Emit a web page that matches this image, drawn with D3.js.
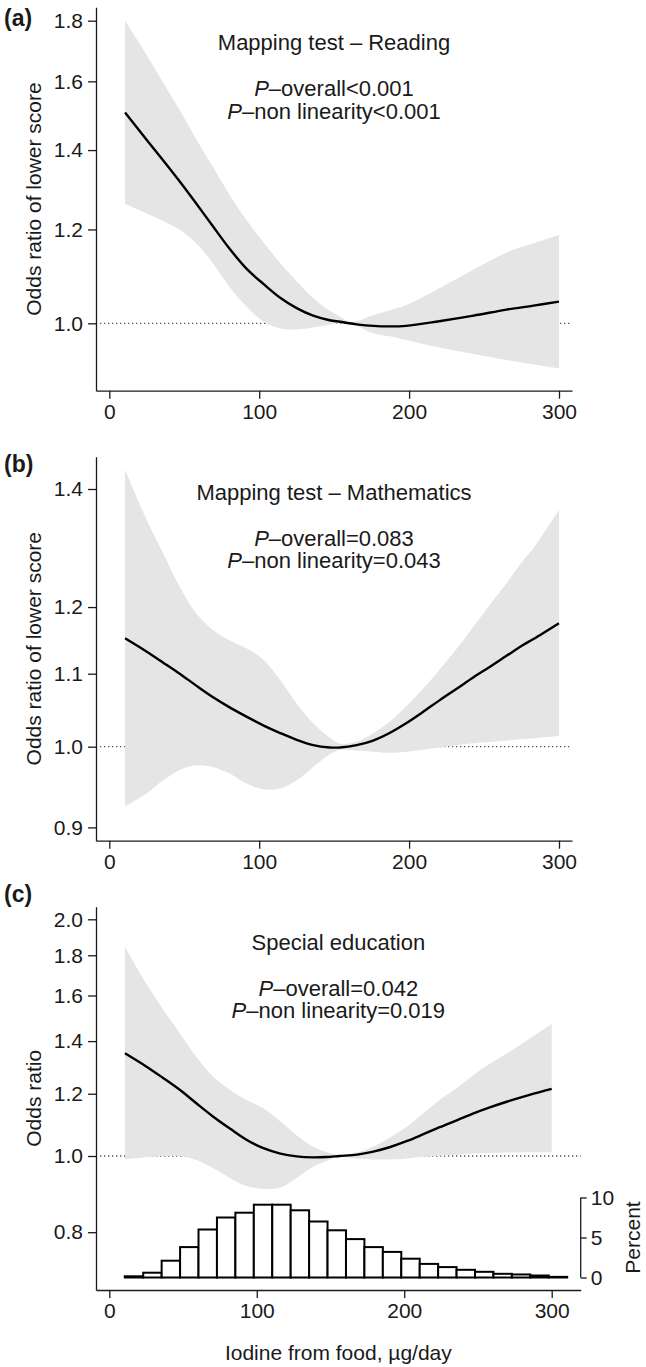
<!DOCTYPE html>
<html>
<head>
<meta charset="utf-8">
<script src="https://cdn.jsdelivr.net/npm/d3@7"></script>
<style>
  body { margin: 0; background: #fff; }
  svg text { font-family: "Liberation Sans", Arial, Helvetica, sans-serif; fill: #1a1a1a; }
</style>
</head>
<body>
<svg id="fig" width="646" height="1367"></svg>
<script>
// ---- data ----
const readingX  = [10.5, 25, 36, 47, 58, 69, 80, 91.5, 103, 114, 125, 136, 147, 154, 160, 165, 176, 187, 198, 220, 243, 265, 283, 300];
const readingOR = [1.506, 1.428, 1.372, 1.317, 1.262, 1.208, 1.157, 1.112, 1.079, 1.051, 1.030, 1.015, 1.006, 1.003, 1.0, 0.998, 0.995, 0.994, 0.995, 1.004, 1.015, 1.027, 1.035, 1.043];
const readingHi = [1.80, 1.684, 1.595, 1.513, 1.43, 1.356, 1.285, 1.222, 1.17, 1.124, 1.085, 1.05, 1.025, 1.013, 1.003, 1.004, 1.016, 1.025, 1.036, 1.07, 1.11, 1.147, 1.168, 1.187];
const readingLo = [1.261, 1.238, 1.22, 1.199, 1.168, 1.124, 1.074, 1.033, 1.003, 0.99, 0.988, 0.992, 0.997, 1.0, 0.999, 0.995, 0.981, 0.975, 0.968, 0.954, 0.942, 0.931, 0.923, 0.916];

const mathX  = [10.5, 25, 36, 47, 58, 69, 80, 91.5, 103, 114, 125, 136, 147, 154, 165, 176, 187, 198, 209, 220, 232, 243, 254, 265, 276, 283, 300];
const mathOR = [1.152, 1.132, 1.116, 1.10, 1.083, 1.067, 1.053, 1.040, 1.028, 1.018, 1.009, 1.002, 0.999, 0.999, 1.002, 1.008, 1.018, 1.031, 1.046, 1.062, 1.079, 1.095, 1.110, 1.126, 1.142, 1.151, 1.175];
const mathHi = [1.436, 1.344, 1.287, 1.232, 1.190, 1.165, 1.149, 1.137, 1.12, 1.091, 1.058, 1.031, 1.012, 1.004, 1.0065, 1.0177, 1.033, 1.054, 1.078, 1.105, 1.137, 1.170, 1.204, 1.238, 1.275, 1.296, 1.362];
const mathLo = [0.925, 0.941, 0.957, 0.970, 0.976, 0.974, 0.966, 0.953, 0.946, 0.947, 0.957, 0.974, 0.990, 0.996, 0.995, 0.9935, 0.992, 0.9935, 0.996, 0.999, 1.002, 1.0044, 1.006, 1.008, 1.010, 1.011, 1.014];

const specX  = [10.6, 25, 36.7, 48, 59, 70.5, 82, 93, 104.5, 116, 127, 138, 147, 156, 168, 179, 190, 202, 213, 224, 236, 247, 258, 270, 285, 300];
const specOR = [1.351, 1.30, 1.256, 1.213, 1.167, 1.122, 1.083, 1.049, 1.023, 1.007, 0.999, 0.996, 0.997, 1.0, 1.004, 1.013, 1.026, 1.045, 1.066, 1.088, 1.111, 1.133, 1.153, 1.173, 1.196, 1.217];
const specHi = [1.846, 1.658, 1.533, 1.432, 1.337, 1.261, 1.213, 1.178, 1.15, 1.106, 1.063, 1.028, 1.012, 1.003, 1.01, 1.028, 1.055, 1.09, 1.133, 1.178, 1.222, 1.268, 1.31, 1.352, 1.41, 1.472];
const specLo = [0.990, 0.996, 1.0, 1.0, 0.988, 0.9646, 0.937, 0.916, 0.908, 0.912, 0.937, 0.969, 0.985, 0.996, 0.993, 0.990, 0.990, 0.993, 0.998, 1.001, 1.004, 1.007, 1.009, 1.010, 1.011, 1.011];

// histogram of intake (percent per bin)
const histX0 = [10.5, 23, 35.5, 48, 60.5, 73, 85.5, 98, 110.5, 123, 135.5, 148, 160.5, 173, 185.5, 198, 210.5, 223, 235.5, 248, 260.5, 273, 285.5, 298];
const histPct = [0.15, 0.6, 2.1, 3.8, 6.0, 7.5, 8.1, 9.1, 9.1, 8.4, 7.0, 5.9, 4.8, 3.8, 3.2, 2.35, 1.7, 1.3, 0.96, 0.71, 0.46, 0.38, 0.25, 0.08];
const histBinWidth = 12.5;

const xTicks = [0, 100, 200, 300];
const readingTicks = [1.0, 1.2, 1.4, 1.6, 1.8];
const mathTicks = [0.9, 1.0, 1.1, 1.2, 1.4];
const specTicks = [0.8, 1.0, 1.2, 1.4, 1.6, 1.8, 2.0];
const pctTicks = [0, 5, 10];

const panels = [
  { tag: "(a)", title: "Mapping test \u2013 Reading", p1: "\u2013overall<0.001", p2: "\u2013non linearity<0.001",
    ylab: "Odds ratio of lower score", x: readingX, or: readingOR, hi: readingHi, lo: readingLo, yTicks: readingTicks,
    left: 96, right: 572, top: 7.3, bottom: 390.7, x0px: 109.3, x300px: 559, y1px: 323.3, refVal: 1.8, refPx: 20.7, tagY: 26 },
  { tag: "(b)", title: "Mapping test \u2013 Mathematics", p1: "\u2013overall=0.083", p2: "\u2013non linearity=0.043",
    ylab: "Odds ratio of lower score", x: mathX, or: mathOR, hi: mathHi, lo: mathLo, yTicks: mathTicks,
    left: 96, right: 572, top: 456.7, bottom: 840.7, x0px: 109.3, x300px: 559, y1px: 746.7, refVal: 1.4, refPx: 489, tagY: 472 },
  { tag: "(c)", title: "Special education", p1: "\u2013overall=0.042", p2: "\u2013non linearity=0.019",
    ylab: "Odds ratio", x: specX, or: specOR, hi: specHi, lo: specLo, yTicks: specTicks, hist: true,
    left: 96, right: 580.7, top: 906.7, bottom: 1290, x0px: 109.3, x300px: 551.7, y1px: 1156, refVal: 2.0, refPx: 919.3, tagY: 902 }
];

const svg = d3.select("#fig");
const fmt = d3.format(".1f");
const smooth = d3.curveCatmullRom.alpha(0.5);

panels.forEach(p => {
  let g = svg.append("g");

  // scales anchored on tick positions, then stretched to the plot box
  let x = d3.scaleLinear().domain([0, 300]).range([p.x0px, p.x300px]);
  x.domain([x.invert(p.left), x.invert(p.right)]).range([p.left, p.right]);
  let y = d3.scaleLog().domain([1, p.refVal]).range([p.y1px, p.refPx]);
  y.domain([y.invert(p.bottom), y.invert(p.top)]).range([p.bottom, p.top]);

  // reference line at 1
  g.append("line")
    .attr("x1", p.left + 4).attr("x2", p.right)
    .attr("y1", y(1)).attr("y2", y(1))
    .attr("stroke", "#555").attr("stroke-width", 1.3)
    .attr("stroke-dasharray", "1.3,2.7");

  let pts = p.x.map((d, i) => ({ x: d, or: p.or[i], hi: p.hi[i], lo: p.lo[i] }));

  g.append("path")
    .datum(pts)
    .attr("fill", "#e5e5e5")
    .attr("d", d3.area().curve(smooth)
      .x(d => x(d.x)).y0(d => y(d.lo)).y1(d => y(d.hi)));

  g.append("path")
    .datum(pts)
    .attr("fill", "none").attr("stroke", "#000").attr("stroke-width", 2.4)
    .attr("d", d3.line().curve(smooth)
      .x(d => x(d.x)).y(d => y(d.or)));

  if (p.hist) {
    let pct = d3.scaleLinear().domain([0, 10]).range([1277.5, 1197.5]);
    g.selectAll(".bar")
      .data(histPct)
      .enter().append("rect")
      .attr("class", "bar")
      .attr("x", (d, i) => x(histX0[i]))
      .attr("y", d => pct(d))
      .attr("width", x(histBinWidth) - x(0))
      .attr("height", d => pct(0) - pct(d))
      .attr("fill", "#fff").attr("stroke", "#000").attr("stroke-width", 2);

    let pAxis = g.append("g")
      .attr("transform", "translate(" + p.right + ",0)")
      .call(d3.axisRight(pct).tickValues(pctTicks).tickSize(6).tickSizeOuter(0).tickPadding(4));
    pAxis.selectAll("text").style("font-size", "21px");
    pAxis.selectAll("path,line").attr("stroke", "#1a1a1a").attr("stroke-width", 1.3);
    pAxis.select(".domain").attr("d", "M0," + pct(10) + "V" + pct(0));

    g.append("text")
      .attr("transform", "translate(640," + pct(5) + ") rotate(-90)")
      .attr("text-anchor", "middle")
      .style("font-size", "21px")
      .text("Percent");
  }

  // axes
  let xAxis = g.append("g")
    .attr("transform", "translate(0," + p.bottom + ")")
    .call(d3.axisBottom(x).tickValues(xTicks).tickSize(8).tickSizeOuter(0).tickPadding(5));
  let yAxis = g.append("g")
    .attr("transform", "translate(" + p.left + ",0)")
    .call(d3.axisLeft(y).tickValues(p.yTicks).tickFormat(fmt).tickSize(8).tickSizeOuter(0).tickPadding(5));
  [xAxis, yAxis].forEach(a => {
    a.selectAll("text").style("font-size", "21px");
    a.selectAll("path,line").attr("stroke", "#1a1a1a").attr("stroke-width", 1.3);
  });

  // labels
  let cx = (p.left + p.right) / 2;
  g.append("text")
    .attr("transform", "translate(41," + ((p.top + p.bottom) / 2) + ") rotate(-90)")
    .attr("text-anchor", "middle")
    .style("font-size", "21px")
    .text(p.ylab);

  g.append("text")
    .attr("x", 4).attr("y", p.tagY)
    .style("font-size", "23px").style("font-weight", "bold")
    .text(p.tag);

  let ty = p.top + 43;
  g.append("text")
    .attr("x", cx).attr("y", ty)
    .attr("text-anchor", "middle").style("font-size", "22px")
    .text(p.title);

  [p.p1, p.p2].forEach((s, i) => {
    let t = g.append("text")
      .attr("x", cx).attr("y", ty + 46 + i * 22.5)
      .attr("text-anchor", "middle").style("font-size", "22px");
    t.append("tspan").style("font-style", "italic").text("P");
    t.append("tspan").text(s);
  });
});

svg.append("text")
  .attr("x", (96 + 580.7) / 2).attr("y", 1360)
  .attr("text-anchor", "middle")
  .style("font-size", "21px")
  .text("Iodine from food, \u00b5g/day");
</script>
</body>
</html>
